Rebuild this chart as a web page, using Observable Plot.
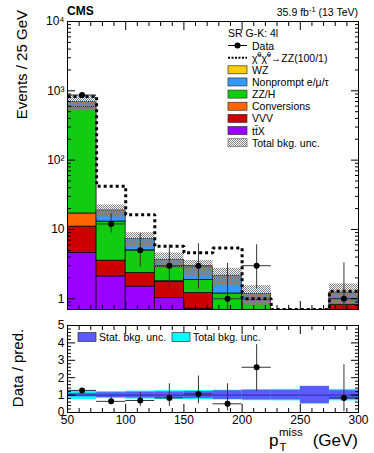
<!DOCTYPE html>
<html><head><meta charset="utf-8">
<script src="https://cdn.jsdelivr.net/npm/d3@7"></script>
<script src="https://cdn.jsdelivr.net/npm/@observablehq/plot@0.6"></script>
<style>
body{margin:0;background:#fff;}
#wrap{position:relative;width:374px;height:453px;overflow:hidden;background:#fff;font-family:"Liberation Sans",Arial,Helvetica,sans-serif;}
#wrap > svg{position:absolute;left:0;overflow:visible;}
</style></head><body><div id="wrap"></div>
<script>
// ---------- data ----------
const binLow   = [50, 75, 100, 125, 150, 175, 200, 225, 250, 275];
const binWidth = 25;
// background components per bin (stack order bottom -> top)
const ttX       = [4.6, 2.1, 1.5, 1.02, 0.72, 0.25, 0.1, 0.05, 0.03, 0.25];
const vvv       = [6.4, 1.45, 0.86, 0.74, 0.49, 0.4, 0.4, 0.05, 0.03, 0.57];
const conv      = [6.0, 0, 0, 0.03, 0, 0, 0, 0, 0, 0];
const zzh       = [563, 9.45, 2.64, 1.06, 0.66, 0.54, 0.47, 0.2, 0.15, 0.18];
const nonprompt = [106, 5.8, 2.3, 0.8, 0.97, 0.96, 0.2, 0.2, 0.1, 0.23];
const wz        = [0, 0, 0, 0, 0, 0, 0, 0, 0, 0];
// relative background uncertainties
const totUnc  = [0.25, 0.2, 0.23, 0.25, 0.26, 0.28, 0.32, 0.33, 0.5, 0.33];
const statUnc = [0.1, 0.14, 0.17, 0.18, 0.2, 0.25, 0.27, 0.27, 0.5, 0.25];
// signal + background (dashed)
const signal  = [830, 42, 16.3, 5.7, 4.6, 5.4, 1.0, 0.7, 0.7, 1.28];
// data
const dataN   = [870, 12, 5, 3, 3, 1, 3, 0, 0, 1];
const dataLo  = [841, 8.9, 2.84, 1.38, 1.38, 0.17, 1.38, 0, 0, 0.17];
const dataHi  = [900, 17, 8.7, 6.0, 6.2, 3.25, 6.0, 0, 0, 3.3];
// ratio data / prediction
const ratio   = [1.27, 0.64, 0.69, 0.84, 1.07, 0.5, 2.6, null, null, 0.84];
const ratioLo = [1.22, 0.45, 0.35, 0.35, 0.5, 0.08, 1.2, null, null, 0.05];
const ratioHi = [1.33, 0.9, 1.15, 1.65, 2.1, 1.65, 3.9, null, null, 2.75];
// axes
const xDomain = [50, 300];
const yDomain = [0.7, 10000];
const rDomain = [0, 5];
const xMajor = [50, 100, 150, 200, 250, 300];
const xMinor = [60,70,80,90,110,120,130,140,160,170,180,190,210,220,230,240,260,270,280,290];
const yMajor = [1, 10, 100, 1000, 10000];
const yMinor = [0.8,0.9,2,3,4,5,6,7,8,9,20,30,40,50,60,70,80,90,200,300,400,500,600,700,800,900,2000,3000,4000,5000,6000,7000,8000,9000];
const rMajor = [0, 1, 2, 3, 4, 5];
const rMinor = [0.2,0.4,0.6,0.8,1.2,1.4,1.6,1.8,2.2,2.4,2.6,2.8,3.2,3.4,3.6,3.8,4.2,4.4,4.6,4.8];

const procs = [
  {name: "tt̄X", vals: ttX, color: "#9900ff"},
  {name: "VVV", vals: vvv, color: "#cc0000"},
  {name: "Conversions", vals: conv, color: "#ff6600"},
  {name: "ZZ/H", vals: zzh, color: "#11cc11"},
  {name: "Nonprompt e/μ/τ", vals: nonprompt, color: "#3399ff"},
  {name: "WZ", vals: wz, color: "#ffcc00"}
];

// ---------- derived tables ----------
const bins = binLow.map((x, i) => ({i, x1: x, x2: x + binWidth, xc: x + binWidth / 2}));
const stackRows = [];
const totals = [];
bins.forEach((b, i) => {
  let cum = 0;
  procs.forEach(p => {
    const v = p.vals[i];
    if (v > 0) {
      const lo = cum; cum += v;
      stackRows.push({x1: b.x1, x2: b.x2, y1: lo > 0 ? lo : yDomain[0] / 2, y2: cum, color: p.color});
    }
  });
  totals.push(cum);
});
const bandRows = bins.map((b, i) => ({x1: b.x1, x2: b.x2, lo: totals[i] * (1 - totUnc[i]), hi: totals[i] * (1 + totUnc[i]),
  slo: 1 - statUnc[i], shi: 1 + statUnc[i], tlo: 1 - totUnc[i], thi: 1 + totUnc[i]}));
const sigPts = bins.map((b, i) => ({x: b.x1, y: signal[i]})).concat([{x: bins[bins.length - 1].x2, y: signal[signal.length - 1]}]);
const dataRows = bins.map((b, i) => ({...b, n: dataN[i], lo: dataLo[i], hi: dataHi[i]})).filter(d => d.n > 0);
const ratioRows = bins.map((b, i) => ({...b, r: ratio[i], lo: ratioLo[i], hi: ratioHi[i]})).filter(d => d.r != null);

const FONT = '"Liberation Sans", Arial, Helvetica, sans-serif';
const supMap = {2: "²", 3: "³", 4: "⁴"};
const yFmt = d => d === 1 ? "1" : d === 10 ? "10" : "10" + supMap[Math.round(Math.log10(d))];

function frameTicks(kind, major, minor, majLen, minLen) {
  const A = kind === "x" ? Plot.axisX : Plot.axisY;
  const anchors = kind === "x" ? ["bottom", "top"] : ["left", "right"];
  const out = [];
  for (const a of anchors) {
    out.push(A(major, {anchor: a, tickSize: -majLen, tickFormat: () => "", label: null}));
    out.push(A(minor, {anchor: a, tickSize: -minLen, tickFormat: () => "", label: null}));
  }
  return out;
}

// ---------- main panel ----------
const main = Plot.plot({
  width: 374, height: 321,
  marginLeft: 67, marginRight: 16, marginTop: 21, marginBottom: 12,
  style: {fontFamily: FONT, fontSize: "12px", background: "transparent", color: "#000"},
  x: {domain: xDomain},
  y: {type: "log", domain: yDomain},
  marks: [
    Plot.rect(stackRows, {x1: "x1", x2: "x2", y1: "y1", y2: "y2", fill: "color", stroke: "#000", strokeWidth: 0.7, clip: true}),
    Plot.rect(bandRows, {x1: "x1", x2: "x2", y1: "lo", y2: "hi", fill: "url(#chk)", clip: true}),
    Plot.line(sigPts, {x: "x", y: "y", curve: "step-after", stroke: "#000", strokeWidth: 3, strokeDasharray: "3,3", strokeLinecap: "butt", strokeLinejoin: "miter", clip: true}),
    Plot.ruleX(dataRows, {x: "xc", y1: "lo", y2: "hi", stroke: "#333", strokeWidth: 1, clip: true}),
    Plot.ruleY(dataRows, {y: "n", x1: "x1", x2: "x2", stroke: "#333", strokeWidth: 1, clip: true}),
    Plot.dot(dataRows, {x: "xc", y: "n", r: 3, fill: "#000", stroke: "none"}),
    Plot.frame({stroke: "#000", strokeWidth: 1}),
    ...frameTicks("x", xMajor, xMinor, 8, 4),
    ...frameTicks("y", yMajor, yMinor, 8, 4),
    Plot.axisY(yMajor, {anchor: "left", tickSize: 0, tickPadding: 3, tickFormat: yFmt, fontSize: 12, label: null})
  ]
});
main.style.top = "0px";
d3.select(main).insert("defs", ":first-child").html(
  '<pattern id="chk" width="2" height="2" patternUnits="userSpaceOnUse">' +
  '<rect x="0" y="0" width="1" height="1" fill="#808080"/><rect x="1" y="1" width="1" height="1" fill="#808080"/></pattern>');

// ---------- ratio panel ----------
const rat = Plot.plot({
  width: 374, height: 141,
  marginLeft: 67, marginRight: 16, marginTop: 13, marginBottom: 41,
  style: {fontFamily: FONT, fontSize: "12px", background: "transparent", color: "#000"},
  x: {domain: xDomain},
  y: {domain: rDomain},
  marks: [
    Plot.rect(bandRows, {x1: "x1", x2: "x2", y1: "tlo", y2: "thi", fill: "#00ffff", clip: true}),
    Plot.rect(bandRows, {x1: "x1", x2: "x2", y1: "slo", y2: "shi", fill: "#5b5bff", clip: true}),
    Plot.ruleY([1], {stroke: "#2a2aa0", strokeWidth: 1}),
    Plot.ruleX(ratioRows, {x: "xc", y1: "lo", y2: "hi", stroke: "#333", strokeWidth: 1, clip: true}),
    Plot.ruleY(ratioRows, {y: "r", x1: "x1", x2: "x2", stroke: "#333", strokeWidth: 1, clip: true}),
    Plot.dot(ratioRows, {x: "xc", y: "r", r: 3, fill: "#000", stroke: "none"}),
    Plot.frame({stroke: "#000", strokeWidth: 1}),
    ...frameTicks("x", xMajor, xMinor, 8, 4),
    ...frameTicks("y", rMajor, rMinor, 8, 4),
    Plot.axisY(rMajor, {anchor: "left", tickSize: 0, tickPadding: 3, fontSize: 12, label: null}),
    Plot.axisX(xMajor, {anchor: "bottom", tickSize: 0, tickPadding: 3, fontSize: 12, label: null})
  ]
});
rat.style.top = "312px";

const wrap = document.getElementById("wrap");
wrap.appendChild(main);
wrap.appendChild(rat);

// ---------- titles, header and legends (overlay) ----------
const ov = d3.select(wrap).append("svg").attr("width", 374).attr("height", 453)
  .style("position", "absolute").style("top", "0px").style("left", "0px")
  .style("font-family", FONT).style("pointer-events", "none");
ov.append("defs").html(
  '<pattern id="chk2" width="2" height="2" patternUnits="userSpaceOnUse">' +
  '<rect width="2" height="2" fill="#fff"/>' +
  '<rect x="0" y="0" width="1" height="1" fill="#808080"/><rect x="1" y="1" width="1" height="1" fill="#808080"/></pattern>');

// axis titles
ov.append("text").attr("transform", "translate(27,10) rotate(-90)").attr("text-anchor", "end")
  .attr("font-size", 15).text("Events / 25 GeV");
ov.append("text").attr("transform", "translate(23,368) rotate(-90)").attr("text-anchor", "middle")
  .attr("font-size", 15).text("Data / pred.");
ov.append("text").attr("x", 269).attr("y", 446).attr("font-size", 17).text("p");
ov.append("text").attr("x", 279).attr("y", 436).attr("font-size", 11.5).text("miss");
ov.append("text").attr("x", 279.5).attr("y", 451).attr("font-size", 11.5).text("T");
ov.append("text").attr("x", 358).attr("y", 446).attr("text-anchor", "end").attr("font-size", 17).text("(GeV)");

// header
ov.append("text").attr("x", 67).attr("y", 15).attr("font-size", 12).attr("font-weight", "bold").text("CMS");
const lumi = ov.append("text").attr("x", 358).attr("y", 16).attr("text-anchor", "end").attr("font-size", 10.5);
lumi.append("tspan").text("35.9 fb");
lumi.append("tspan").attr("font-size", 7.5).attr("dy", -4).text("-1");
lumi.append("tspan").attr("dy", 4).text(" (13 TeV)");

// main legend
const LX = 228, LW = 19, LT = 252, L0 = 45.5, LS = 12.15, LF = 10.5;
ov.append("text").attr("x", 228).attr("y", 37).attr("font-size", LF).text("SR G-K: 4l");
const ly = k => L0 + k * LS;
// data
ov.append("line").attr("x1", LX).attr("x2", LX + LW).attr("y1", ly(0)).attr("y2", ly(0)).attr("stroke", "#000");
ov.append("circle").attr("cx", LX + LW / 2).attr("cy", ly(0)).attr("r", 3).attr("fill", "#000");
ov.append("text").attr("x", LT).attr("y", ly(0) + 4).attr("font-size", LF).text("Data");
// signal
ov.append("line").attr("x1", LX).attr("x2", LX + LW).attr("y1", ly(1)).attr("y2", ly(1))
  .attr("stroke", "#000").attr("stroke-width", 2).attr("stroke-dasharray", "2,1.5");
const st = ov.append("text").attr("x", LT).attr("y", ly(1) + 4).attr("font-size", LF);
st.append("tspan").text("χ̃");
st.append("tspan").attr("font-size", 7).attr("dy", -5).text("0");
st.append("tspan").attr("dy", 5).text("χ̃");
st.append("tspan").attr("font-size", 7).attr("dy", -5).text("0");
st.append("tspan").attr("dy", 5).text("→ZZ(100/1)");
// processes (top of legend = WZ)
const legProcs = procs.slice().reverse();
legProcs.forEach((p, k) => {
  const y = ly(k + 2);
  ov.append("rect").attr("x", LX).attr("y", y - 4).attr("width", LW).attr("height", 8)
    .attr("fill", p.color).attr("stroke", "#333").attr("stroke-width", 0.7);
  ov.append("text").attr("x", LT).attr("y", y + 4).attr("font-size", LF).text(p.name);
});
{
  const y = ly(8);
  ov.append("rect").attr("x", LX).attr("y", y - 4).attr("width", LW).attr("height", 8)
    .attr("fill", "url(#chk2)").attr("stroke", "#666").attr("stroke-width", 0.7);
  ov.append("text").attr("x", LT).attr("y", y + 4).attr("font-size", LF).text("Total bkg. unc.");
}
// ratio legend
[["Stat. bkg. unc.", "#5b5bff", 78], ["Total bkg. unc.", "#00ffff", 172]].forEach(([t, c, x]) => {
  ov.append("rect").attr("x", x).attr("y", 332.5).attr("width", 18).attr("height", 9)
    .attr("fill", c).attr("stroke", "#333").attr("stroke-width", 0.7);
  ov.append("text").attr("x", x + 21).attr("y", 341).attr("font-size", LF).text(t);
});
</script></body></html>
